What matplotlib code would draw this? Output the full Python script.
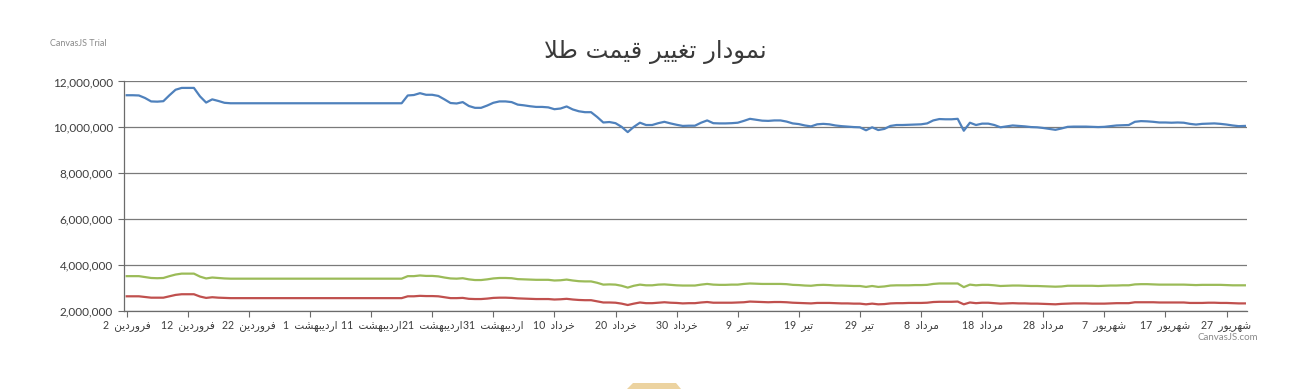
import matplotlib
matplotlib.use("Agg")
import matplotlib.pyplot as plt
import numpy as np
from matplotlib.ticker import FuncFormatter
from matplotlib.patches import Polygon

# daily prices (thousands), from 2 Farvardin onward
blue = [11400, 11400, 11390, 11280, 11130, 11120, 11140, 11400, 11640, 11720,
        11720, 11720, 11350, 11080, 11220, 11150, 11070, 11050, 11050, 11050,
        11050, 11050, 11050, 11050, 11050, 11050, 11050, 11050, 11050, 11050,
        11050, 11050, 11050, 11050, 11050, 11050, 11050, 11050, 11050, 11050,
        11050, 11050, 11050, 11050, 11050, 11050, 11390, 11410, 11490, 11420,
        11420, 11370, 11220, 11060, 11040, 11100, 10930, 10850, 10850, 10950,
        11070, 11130, 11130, 11100, 10990, 10960, 10920, 10890, 10890, 10870,
        10790, 10820, 10910, 10780, 10700, 10660, 10660, 10450, 10210, 10230,
        10180, 10020, 9790, 10020, 10200, 10100, 10100, 10180, 10240, 10170,
        10110, 10060, 10070, 10070, 10200, 10300, 10180, 10170, 10170, 10180,
        10200, 10280, 10370, 10330, 10290, 10280, 10300, 10300, 10250, 10170,
        10140, 10080, 10040, 10130, 10150, 10130, 10080, 10050, 10030, 10010,
        10000, 9870, 10000, 9880, 9930, 10060, 10100, 10100, 10110, 10120,
        10130, 10170, 10300, 10360, 10350, 10350, 10370, 9850, 10200, 10100,
        10160, 10160, 10100, 10000, 10040, 10080, 10060, 10040, 10010, 10000,
        9970, 9930, 9890, 9950, 10020, 10030, 10030, 10030, 10020, 10010,
        10020, 10050, 10080, 10090, 10100, 10240, 10270, 10260, 10240, 10210,
        10210, 10200, 10210, 10200, 10150, 10120, 10150, 10160, 10170, 10150,
        10120, 10080, 10050, 10060]

green = [3500, 3500, 3500, 3460, 3420, 3410, 3420, 3500, 3570, 3610,
         3610, 3610, 3480, 3400, 3440, 3420, 3400, 3390, 3390, 3390,
         3390, 3390, 3390, 3390, 3390, 3390, 3390, 3390, 3390, 3390,
         3390, 3390, 3390, 3390, 3390, 3390, 3390, 3390, 3390, 3390,
         3390, 3390, 3390, 3390, 3390, 3390, 3500, 3500, 3530, 3510,
         3510, 3490, 3440, 3400, 3390, 3410, 3360, 3330, 3330, 3360,
         3400, 3420, 3420, 3410, 3370, 3360, 3350, 3340, 3340, 3340,
         3310, 3320, 3350, 3310, 3280, 3270, 3270, 3210, 3130, 3140,
         3130, 3080, 3000, 3080, 3130, 3100, 3100, 3130, 3140, 3120,
         3100, 3090, 3090, 3090, 3130, 3160, 3130, 3120, 3120, 3130,
         3130, 3160, 3180, 3170, 3160, 3160, 3160, 3160, 3150, 3120,
         3110, 3090, 3080, 3110, 3120, 3110, 3090, 3090, 3080, 3070,
         3070, 3030, 3070, 3030, 3050, 3090, 3100, 3100, 3100, 3110,
         3110, 3120, 3160, 3180, 3180, 3180, 3180, 3020, 3130, 3100,
         3120, 3120, 3100, 3070, 3080, 3090, 3090, 3080, 3070, 3070,
         3060, 3050, 3040, 3050, 3080, 3080, 3080, 3080, 3080, 3070,
         3080, 3090, 3090, 3100, 3100, 3140, 3150, 3150, 3140, 3130,
         3130, 3130, 3130, 3130, 3120, 3110, 3120, 3120, 3120, 3120,
         3110, 3100, 3100, 3100]

red = [2620, 2620, 2620, 2590, 2560, 2560, 2560, 2620, 2680, 2710,
       2710, 2710, 2610, 2550, 2580, 2560, 2550, 2540, 2540, 2540,
       2540, 2540, 2540, 2540, 2540, 2540, 2540, 2540, 2540, 2540,
       2540, 2540, 2540, 2540, 2540, 2540, 2540, 2540, 2540, 2540,
       2540, 2540, 2540, 2540, 2540, 2540, 2620, 2620, 2640, 2630,
       2630, 2620, 2580, 2540, 2540, 2550, 2510, 2500, 2500, 2520,
       2550, 2560, 2560, 2550, 2530, 2520, 2510, 2500, 2500, 2500,
       2480, 2490, 2510, 2480, 2460, 2450, 2450, 2400, 2350, 2350,
       2340, 2300, 2240, 2300, 2350, 2320, 2320, 2340, 2360, 2340,
       2330, 2310, 2320, 2320, 2350, 2370, 2340, 2340, 2340, 2340,
       2350, 2360, 2390, 2380, 2370, 2360, 2370, 2370, 2360, 2340,
       2330, 2320, 2310, 2330, 2330, 2330, 2320, 2310, 2310, 2300,
       2300, 2270, 2300, 2270, 2280, 2310, 2320, 2320, 2330, 2330,
       2330, 2340, 2370, 2380, 2380, 2380, 2390, 2270, 2350, 2320,
       2340, 2340, 2320, 2300, 2310, 2320, 2310, 2310, 2300, 2300,
       2290, 2280, 2270, 2290, 2300, 2310, 2310, 2310, 2300, 2300,
       2300, 2310, 2320, 2320, 2320, 2360, 2360, 2360, 2360, 2350,
       2350, 2350, 2350, 2350, 2330, 2330, 2330, 2340, 2340, 2330,
       2330, 2320, 2310, 2310]

tick_days = [2, 12, 22, 1, 11, 21, 31, 10, 20, 30, 9, 19, 29, 8, 18, 28, 7, 17, 27]
tick_months = ["فروردین"] * 3 + ["اردیبهشت"] * 4 + ["خرداد"] * 3 + ["تیر"] * 3 + \
              ["مرداد"] * 3 + ["شهریور"] * 3
title = "نمودار تغییر قیمت طلا"

# matplotlib has no arabic shaping, so pick presentation forms by hand
FORMS = {
    'ا': ('\ufe8d', '\ufe8e'),
    'د': ('\ufea9', '\ufeaa'),
    'ر': ('\ufead', '\ufeae'),
    'و': ('\ufeed', '\ufeee'),
    'ب': ('\ufe8f', '\ufe90', '\ufe91', '\ufe92'),
    'ت': ('\ufe95', '\ufe96', '\ufe97', '\ufe98'),
    'خ': ('\ufea5', '\ufea6', '\ufea7', '\ufea8'),
    'ش': ('\ufeb5', '\ufeb6', '\ufeb7', '\ufeb8'),
    'ط': ('\ufec1', '\ufec2', '\ufec3', '\ufec4'),
    'غ': ('\ufecd', '\ufece', '\ufecf', '\ufed0'),
    'ف': ('\ufed1', '\ufed2', '\ufed3', '\ufed4'),
    'ق': ('\ufed5', '\ufed6', '\ufed7', '\ufed8'),
    'ل': ('\ufedd', '\ufede', '\ufedf', '\ufee0'),
    'م': ('\ufee1', '\ufee2', '\ufee3', '\ufee4'),
    'ن': ('\ufee5', '\ufee6', '\ufee7', '\ufee8'),
    'ه': ('\ufee9', '\ufeea', '\ufeeb', '\ufeec'),
    'ی': ('\ufbfc', '\ufbfd', '\ufbfe', '\ufbff'),
}


def shape(s):
    out = []
    i = 0
    while i < len(s):
        c = s[i]
        prev = s[i - 1] if i > 0 else ' '
        joins_prev = prev in FORMS and len(FORMS[prev]) == 4
        if c == 'ل' and i + 1 < len(s) and s[i + 1] == 'ا':
            out.append('\ufefc' if joins_prev else '\ufefb')
            i += 2
            continue
        if c not in FORMS:
            out.append(c)
            i += 1
            continue
        f = FORMS[c]
        nxt = s[i + 1] if i + 1 < len(s) else ' '
        joins_next = len(f) == 4 and nxt in FORMS
        if joins_prev and joins_next:
            out.append(f[3])
        elif joins_next:
            out.append(f[2])
        elif joins_prev:
            out.append(f[1])
        else:
            out.append(f[0])
        i += 1
    return ''.join(reversed(out))


fam = ['Lato', 'DejaVu Sans']
plt.rcParams['font.family'] = fam

fig = plt.figure(figsize=(13.09, 3.89), dpi=100)
ax = fig.add_axes([124 / 1309, 1 - 310.5 / 389, 1122.7 / 1309, 229 / 389])

x = np.arange(len(blue))
ax.plot(x, np.array(blue) * 1000, color='#4F81BC', lw=1.6)
ax.plot(x, np.array(green) * 1000, color='#9BBB58', lw=1.6)
ax.plot(x, np.array(red) * 1000, color='#C0504E', lw=1.6)

ax.set_xlim(-0.44, 183.3)
ax.set_ylim(2000000, 12000000)
ax.set_yticks(np.arange(2000000, 12000001, 2000000))
ax.yaxis.set_major_formatter(FuncFormatter(lambda v, p: '{:,.0f}'.format(v)))
ax.grid(axis='y', color='#7a7a7a', lw=0.9)
ax.set_axisbelow(True)

ax.set_xticks(np.arange(0, 181, 10))
ax.set_xticklabels([str(d) + '\u2002' + shape(m) for d, m in zip(tick_days, tick_months)])

for s in ['top', 'right']:
    ax.spines[s].set_visible(False)
for s in ['left', 'bottom']:
    ax.spines[s].set_color('#6b6b6b')
    ax.spines[s].set_linewidth(0.9)
ax.tick_params(axis='y', length=4.5, color='#6b6b6b', labelsize=8.5, labelcolor='#3d3d3d', pad=3.5)
ax.tick_params(axis='x', length=4, color='#6b6b6b', labelsize=7.6, labelcolor='#3d3d3d', pad=3)

fig.text(655.5 / 1309, 1 - 52 / 389, shape(title), ha='center', va='center',
         fontsize=17.5, color='#3a3a3a', family='DejaVu Sans')
fig.text(50 / 1309, 1 - 43 / 389, 'CanvasJS Trial', ha='left', va='center',
         fontsize=6.5, color='#8a8a8a')
fig.text(1258 / 1309, 1 - 338 / 389, 'CanvasJS.com', ha='right', va='center',
         fontsize=7, color='#8a8a8a')

# bit of the page's gold logo peeking in at the bottom
fig.patches.append(Polygon([[627 / 1309, 0], [633 / 1309, 6 / 389], [676 / 1309, 6 / 389], [681 / 1309, 0]],
                           closed=True, transform=fig.transFigure, facecolor='#ecd3a0',
                           edgecolor='none'))

fig.savefig('out.png', dpi=100)
